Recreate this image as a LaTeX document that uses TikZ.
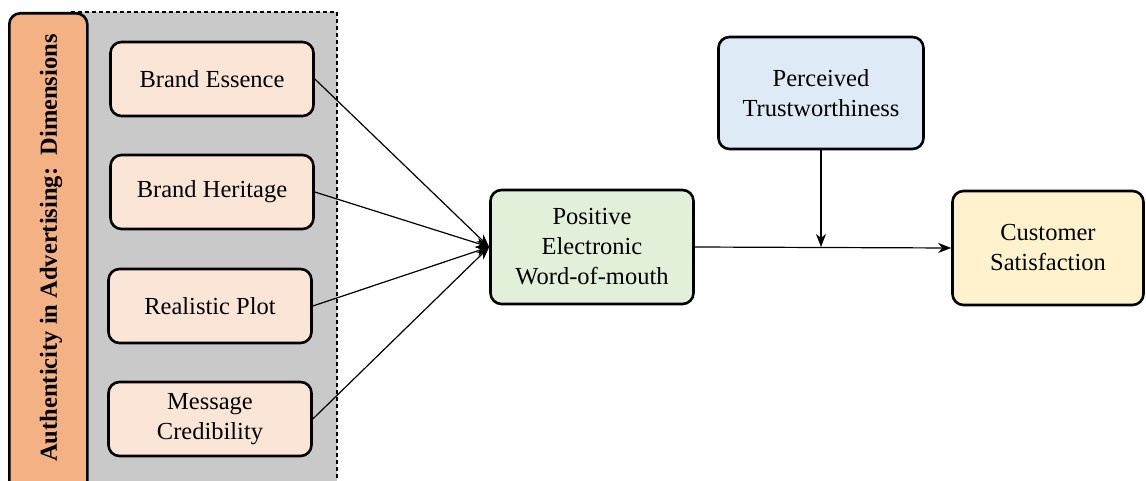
\documentclass[tikz,border=0pt]{standalone}
\usepackage{fontspec}
\setmainfont{Liberation Serif}
\usetikzlibrary{arrows.meta}
\definecolor{peach}{HTML}{FBE5D6}
\definecolor{orangefill}{HTML}{F4B183}
\definecolor{grayfill}{HTML}{C9C9C9}
\definecolor{greenfill}{HTML}{E2F0D9}
\definecolor{bluefill}{HTML}{DEEBF7}
\definecolor{yellowfill}{HTML}{FFF2CC}
\tikzset{
  box/.style={draw=black, line width=2.6pt, rounded corners=11pt, align=center,
    font=\fontsize{24.5}{30}\selectfont, inner sep=0pt},
  dimbox/.style={box, fill=peach, minimum width=203pt, minimum height=74pt},
  conn/.style={line width=1.2pt, -{Stealth[length=13pt,width=10pt,inset=4pt]}},
}
\begin{document}
\begin{tikzpicture}[x=1pt,y=-1pt]
\useasboundingbox (0,0) rectangle (1146,481);
\clip (0,0) rectangle (1146,481);
% gray dashed group
\draw[fill=grayfill, dash pattern=on 4pt off 3pt, line width=1.3pt] (70,12) rectangle (337,500);
% orange vertical title box
\node[draw=black, line width=2.6pt, rounded corners=11pt, fill=orangefill,
  minimum width=78pt, minimum height=495pt, anchor=north west, inner sep=0pt] (title) at (8,12) {};
\node[rotate=90, font=\fontsize{24.5}{30}\bfseries\selectfont] (titletext) at (51,248)
  {Authenticity in Advertising:\ \ Dimensions};
% dimension boxes
\node[dimbox] (be) at (212,79) {Brand Essence};
\node[dimbox] (bh) at (212,192) {Brand Heritage};
\node[dimbox] (rp) at (210,306) {Realistic Plot};
\node[dimbox] (mc) at (210,419) {Message\\Credibility};
% main boxes
\node[box, fill=greenfill, minimum width=203pt, minimum height=114pt] (pe) at (592,247)
  {Positive\\Electronic\\Word-of-mouth};
\node[box, fill=bluefill, minimum width=205pt, minimum height=112pt] (pt) at (821,93)
  {Perceived\\Trustworthiness};
\node[box, fill=yellowfill, minimum width=191pt, minimum height=114pt] (cs) at (1048,248)
  {Customer\\Satisfaction};
% connectors
\draw[conn] (be.east) -- (pe.west);
\draw[conn] (bh.east) -- (pe.west);
\draw[conn] (rp.east) -- (pe.west);
\draw[conn] (mc.east) -- (pe.west);
\coordinate (j) at (pt.south |- pe.east);
\draw[conn] (pe.east) -- (cs.west);
\draw[conn] (pt.south) -- (j);
\end{tikzpicture}
\end{document}
